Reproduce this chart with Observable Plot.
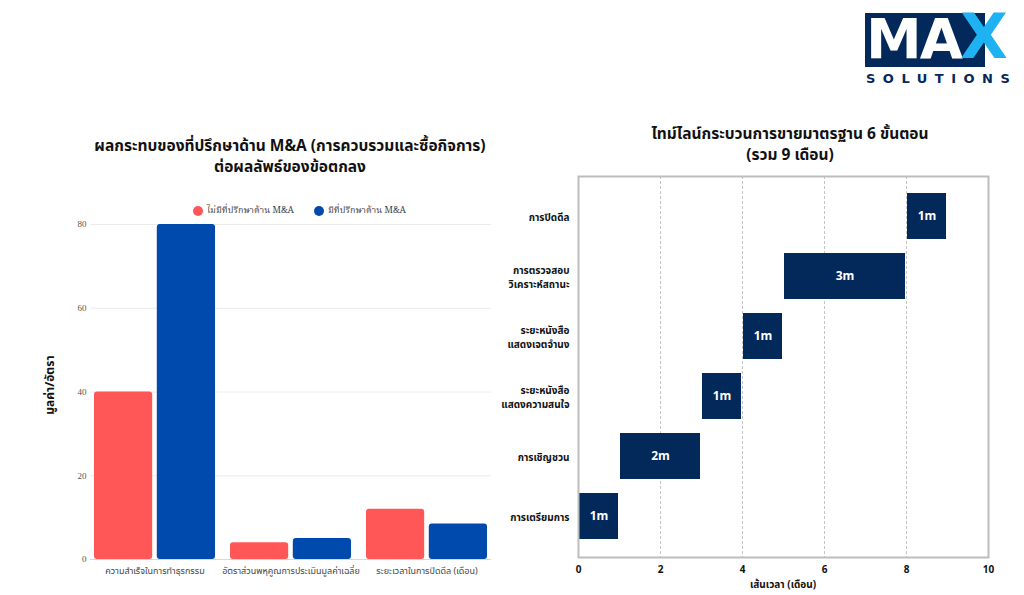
<!DOCTYPE html>
<html>
<head>
<meta charset="utf-8">
<script src="https://cdn.jsdelivr.net/npm/d3@7"></script>
<script src="https://cdn.jsdelivr.net/npm/@observablehq/plot@0.6"></script>
<style>
  html, body { margin:0; padding:0; background:#fff; }
  body { width:1024px; height:595px; position:relative; overflow:hidden;
         font-family: "Noto Sans Thai", "Noto Sans Thai UI", "Loma", "Garuda", "Noto Sans", "DejaVu Sans", sans-serif; }
  .abs { position:absolute; }
  .title { font-weight:700; font-size:15.5px; color:#111; text-align:center; line-height:21px; }
  .legend { font-size:9px; color:#444; font-family: "Noto Serif Thai", "Noto Sans Thai", "Liberation Serif", serif; display:flex; align-items:center; }
  .dot { width:10px; height:10px; border-radius:50%; display:inline-block; margin-right:4px; }
</style>
</head>
<body>
<!-- Logo -->
<div class="abs" style="left:865px; top:13px; width:120px; height:54px; background:#03295B;"></div>
<div class="abs" style="left:866px; top:6px; font-size:56px; font-weight:900; color:#fff; letter-spacing:-2px; font-family:'DejaVu Sans', sans-serif; line-height:66px;">MA</div>
<div class="abs" style="left:960px; top:4px; font-size:62px; font-weight:900; color:#1FB2F2; font-family:'DejaVu Sans', sans-serif; line-height:66px;">X</div>
<div class="abs" style="left:866px; top:71px; font-size:13px; font-weight:700; color:#03295B; letter-spacing:7.5px; font-family:'DejaVu Sans', sans-serif;">SOLUTIONS</div>

<div id="ltitle" class="abs title" style="left:60px; width:460px; top:136px;"></div>
<div id="legend" class="abs legend" style="left:193px; top:203px;"></div>
<div id="ylab" class="abs" style="left:50px; top:385px; transform:translate(-50%,-50%) rotate(-90deg); font-weight:700; font-size:12px; color:#111; white-space:nowrap;"></div>
<div id="left" class="abs" style="left:40px; top:215px;"></div>

<div id="rtitle" class="abs title" style="left:560px; width:460px; top:124px;"></div>
<div id="right" class="abs" style="left:490px; top:170px;"></div>
<div id="xlab" class="abs" style="left:783px; top:585px; transform:translate(-50%,-50%); font-weight:700; font-size:10px; color:#111; white-space:nowrap;"></div>

<script>
// ---------- Left chart data ----------
const leftTitle = ["ผลกระทบของที่ปรึกษาด้าน M&A (การควบรวมและซื้อกิจการ)", "ต่อผลลัพธ์ของข้อตกลง"];
const categories = ["ความสำเร็จในการทำธุรกรรม", "อัตราส่วนพหุคูณการประเมินมูลค่าเฉลี่ย", "ระยะเวลาในการปิดดีล (เดือน)"];
const seriesNames = ["ไม่มีที่ปรึกษาด้าน M&A", "มีที่ปรึกษาด้าน M&A"];
const withoutAdvisor = [40, 4, 12];
const withAdvisor = [80, 5, 8.5];
const seriesColors = ["#FF5757", "#004AAD"];
const yTicks = [0, 20, 40, 60, 80];
const yLabel = "มูลค่า/อัตรา";

// ---------- Right chart data ----------
const rightTitle = ["ไทม์ไลน์กระบวนการขายมาตรฐาน 6 ขั้นตอน", "(รวม 9 เดือน)"];
const stages = ["การเตรียมการ", "การเชิญชวน", "ระยะหนังสือ\nแสดงความสนใจ", "ระยะหนังสือ\nแสดงเจตจำนง", "การตรวจสอบ\nวิเคราะห์สถานะ", "การปิดดีล"];
const stageStart = [0, 1, 3, 4, 5, 8];
const stageEnd = [1, 3, 4, 5, 8, 9];
const stageLabels = ["1m", "2m", "1m", "1m", "3m", "1m"];
const xTicks = [0, 2, 4, 6, 8, 10];
const xGrid = [2, 4, 6, 8];
const xLabel = "เส้นเวลา (เดือน)";

// titles & legend
document.getElementById("ltitle").innerHTML = leftTitle.join("<br>");
document.getElementById("rtitle").innerHTML = rightTitle.join("<br>");
document.getElementById("ylab").textContent = yLabel;
document.getElementById("xlab").textContent = xLabel;
const lg = document.getElementById("legend");
seriesNames.forEach((s, i) => {
  const item = document.createElement("span");
  item.style.display = "inline-flex"; item.style.alignItems = "center"; item.style.marginRight = "20px";
  item.innerHTML = `<span class="dot" style="background:${seriesColors[i]}"></span>${s}`;
  lg.appendChild(item);
});

// ---------- Left plot ----------
const rows = [];
categories.forEach((c, i) => {
  rows.push({cat: c, series: seriesNames[0], value: withoutAdvisor[i]});
  rows.push({cat: c, series: seriesNames[1], value: withAdvisor[i]});
});
const LW = 460, LML = 50, LMR = 9;
const pIn = 0.11, pOut = 0.02;
const step = (LW - LML - LMR) / (categories.length - pIn + 2 * pOut);
const bw = step * (1 - pIn);
const barW = 59;
const inset = bw - barW;

const left = Plot.plot({
  width: LW, height: 370,
  marginLeft: LML, marginRight: LMR, marginTop: 9, marginBottom: 26,
  style: {fontSize: "9px", color: "#444", fontFamily: "'Noto Sans Thai', 'Noto Sans', sans-serif"},
  x: {domain: categories, paddingInner: pIn, paddingOuter: pOut, label: null, tickSize: 0, tickPadding: 8},
  y: {domain: [0, 80], ticks: yTicks, label: null, tickSize: 0, tickPadding: 4},
  color: {domain: seriesNames, range: seriesColors},
  marks: [
    Plot.ruleY(yTicks, {stroke: "#ececec"}),
    Plot.barY(rows.filter(d => d.series === seriesNames[0]), {x: "cat", y: "value", fill: "series", insetRight: inset, rx: 3}),
    Plot.barY(rows.filter(d => d.series === seriesNames[1]), {x: "cat", y: "value", fill: "series", insetLeft: inset, rx: 3}),
    Plot.ruleY([0], {stroke: "#d8d8d8"})
  ]
});
left.querySelectorAll("g[aria-label='y-axis tick label'] text, g[aria-label='y-axis'] text").forEach(t => {
  t.style.fontFamily = "'Liberation Serif', serif"; t.style.fill = "#555";
});
document.getElementById("left").appendChild(left);

// ---------- Right plot ----------
const tl = stages.map((s, i) => ({stage: s, start: stageStart[i], end: stageEnd[i], label: stageLabels[i]}));
const right = Plot.plot({
  width: 520, height: 425,
  marginLeft: 88, marginRight: 22, marginTop: 6, marginBottom: 38,
  style: {fontSize: "10px", fontWeight: "700", color: "#111", fontFamily: "'Noto Sans Thai', 'Noto Sans', sans-serif"},
  x: {domain: [0, 10], ticks: xTicks, tickSize: 0, tickPadding: 8, label: null},
  y: {domain: stages.slice().reverse(), paddingInner: 0.23, paddingOuter: 0.24, axis: null},
  marks: [
    Plot.ruleX(xGrid, {stroke: "#c4c4c4", strokeDasharray: "3,2"}),
    Plot.barX(tl, {y: "stage", x1: "start", x2: "end", fill: "#03295B", insetLeft: 1, insetRight: 1}),
    Plot.text(tl, {y: "stage", x: d => (d.start + d.end) / 2, text: "label", fill: "#fff", fontSize: 12, fontWeight: 700}),
    Plot.text(stages, {y: d => d, text: d => d, frameAnchor: "left", textAnchor: "end", dx: -9, lineHeight: 1.45, fill: "#111", fontSize: 10, fontWeight: 700}),
    Plot.frame({stroke: "#bdbdbd", strokeWidth: 2})
  ]
});
document.getElementById("right").appendChild(right);
</script>
</body>
</html>
